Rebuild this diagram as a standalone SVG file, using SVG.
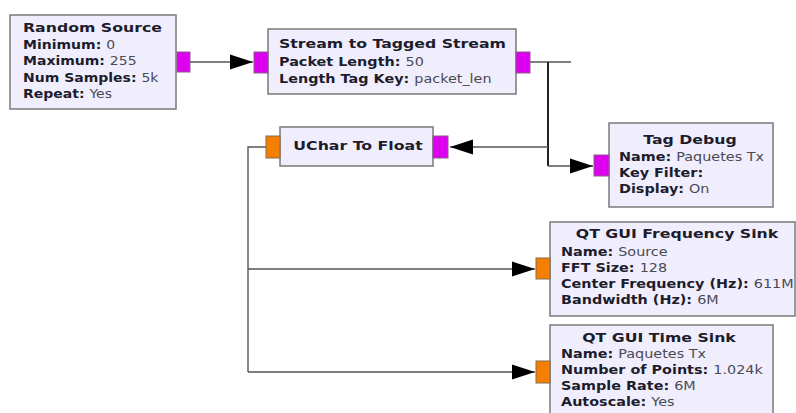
<svg xmlns="http://www.w3.org/2000/svg" width="796" height="413" viewBox="0 0 796 413">
<style>
.blk{fill:#f0eefc;stroke:#7a7a7a;stroke-width:1.5}
.pm{fill:#dd00ee;stroke:#8a5a8a;stroke-width:1}
.po{fill:#f57f00;stroke:#8a6a4a;stroke-width:1}
.t{font-family:"DejaVu Sans",sans-serif;font-size:12.3px;fill:#1c1c2c}
.b{font-weight:bold}
.v{font-weight:normal;fill:#4a4a55}
.c{text-anchor:middle}
.w{fill:none;stroke:#555;stroke-width:1.4}
</style>
<defs>
<marker id="ah" markerUnits="userSpaceOnUse" markerWidth="24" markerHeight="16" refX="23" refY="8" orient="auto">
<path d="M0,0.5 L23,8 L0,15.5 z" fill="#000"/>
</marker>
</defs>
<rect width="796" height="413" fill="#fff"/>
<g id="connectors">
<path class="w" d="M190,62 H253" marker-end="url(#ah)"/>
<path class="w" d="M530,62 H571"/>
<path class="w" d="M548,62 V166" style="stroke:#222;stroke-width:2"/>
<path class="w" d="M548,147 H450" marker-end="url(#ah)"/>
<path class="w" d="M548,166 H593" marker-end="url(#ah)"/>
<path class="w" d="M266,147 H248 V372"/>
<path class="w" d="M248,269 H535" marker-end="url(#ah)"/>
<path class="w" d="M248,372 H535" marker-end="url(#ah)"/>
</g>
<g id="random_source">
<rect class="blk" x="10" y="15" width="166" height="94"/>
<rect class="pm" x="177" y="52" width="13" height="20"/>
<text class="t b" transform="translate(23,32) scale(1.28,1)">Random Source</text>
<text class="t b" transform="translate(23,48.5) scale(1.14,1)">Minimum: <tspan class="v">0</tspan></text>
<text class="t b" transform="translate(23,65) scale(1.14,1)">Maximum: <tspan class="v">255</tspan></text>
<text class="t b" transform="translate(23,81.5) scale(1.14,1)">Num Samples: <tspan class="v">5k</tspan></text>
<text class="t b" transform="translate(23,98) scale(1.14,1)">Repeat: <tspan class="v">Yes</tspan></text>
</g>
<g id="stream_to_tagged">
<rect class="blk" x="268" y="29" width="248" height="65"/>
<rect class="pm" x="254" y="52" width="14" height="21"/>
<rect class="pm" x="516" y="52" width="14" height="21"/>
<text class="t b" transform="translate(279,48) scale(1.28,1)">Stream to Tagged Stream</text>
<text class="t b" transform="translate(279,66) scale(1.17,1)">Packet Length: <tspan class="v">50</tspan></text>
<text class="t b" transform="translate(279,83) scale(1.17,1)">Length Tag Key: <tspan class="v">packet_len</tspan></text>
</g>
<g id="uchar_to_float">
<rect class="blk" x="280" y="127" width="153" height="39"/>
<rect class="po" x="266" y="136" width="14" height="22"/>
<rect class="pm" x="433" y="136" width="15" height="22"/>
<text class="t b c" transform="translate(358,150) scale(1.28,1)">UChar To Float</text>
</g>
<g id="tag_debug">
<rect class="blk" x="609" y="123" width="164" height="84"/>
<rect class="pm" x="594" y="155" width="15" height="21"/>
<text class="t b c" transform="translate(690,144) scale(1.28,1)">Tag Debug</text>
<text class="t b" transform="translate(619,161) scale(1.17,1)">Name: <tspan class="v">Paquetes Tx</tspan></text>
<text class="t b" transform="translate(619,177) scale(1.17,1)">Key Filter: </text>
<text class="t b" transform="translate(619,193) scale(1.17,1)">Display: <tspan class="v">On</tspan></text>
</g>
<g id="freq_sink">
<rect class="blk" x="550" y="222" width="245" height="94"/>
<rect class="po" x="536" y="258" width="14" height="21"/>
<text class="t b c" transform="translate(677,238) scale(1.28,1)">QT GUI Frequency Sink</text>
<text class="t b" transform="translate(561,256) scale(1.17,1)">Name: <tspan class="v">Source</tspan></text>
<text class="t b" transform="translate(561,272) scale(1.17,1)">FFT Size: <tspan class="v">128</tspan></text>
<text class="t b" transform="translate(561,288) scale(1.17,1)">Center Frequency (Hz): <tspan class="v">611M</tspan></text>
<text class="t b" transform="translate(561,304) scale(1.17,1)">Bandwidth (Hz): <tspan class="v">6M</tspan></text>
</g>
<g id="time_sink">
<rect class="blk" x="550" y="325" width="223" height="100"/>
<rect class="po" x="536" y="361" width="14" height="22"/>
<text class="t b c" transform="translate(659,342) scale(1.28,1)">QT GUI Time Sink</text>
<text class="t b" transform="translate(561,358) scale(1.17,1)">Name: <tspan class="v">Paquetes Tx</tspan></text>
<text class="t b" transform="translate(561,374) scale(1.17,1)">Number of Points: <tspan class="v">1.024k</tspan></text>
<text class="t b" transform="translate(561,390) scale(1.17,1)">Sample Rate: <tspan class="v">6M</tspan></text>
<text class="t b" transform="translate(561,406) scale(1.17,1)">Autoscale: <tspan class="v">Yes</tspan></text>
</g>
</svg>
